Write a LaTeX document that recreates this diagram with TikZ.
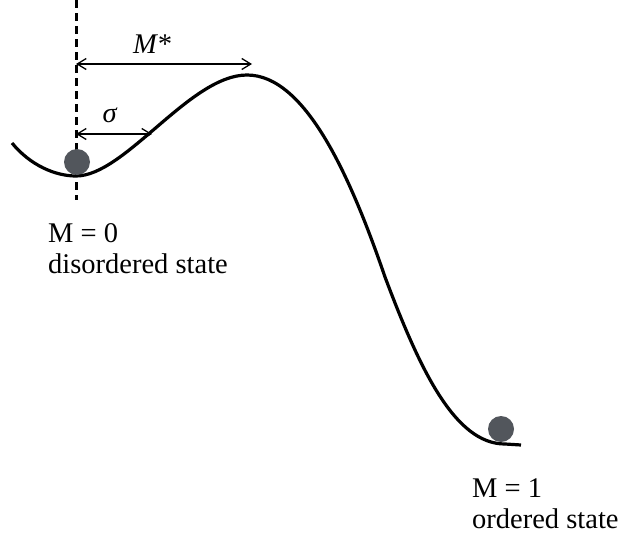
\documentclass[tikz,border=0pt]{standalone}
\usepackage{fontspec}
\setmainfont{Liberation Serif}
\usepackage{xcolor}
\definecolor{ballgray}{HTML}{52565C}
\usepackage{tikz}
\usetikzlibrary{arrows.meta,positioning}

\begin{document}
\begin{tikzpicture}[
  x=1pt,y=-1pt,
  lbl/.style={font=\fontsize{28.5}{31}\selectfont,inner sep=0pt,align=left},
  ball/.style={circle,fill=ballgray,minimum size=26pt,inner sep=0pt},
  dim/.style={{Straight Barb[length=9pt,width=11pt]}-{Straight Barb[length=9pt,width=11pt]},line width=1.3pt},
  energy/.style={line width=3.2pt},
  axis/.style={line width=3pt,dash pattern=on 8pt off 5pt},
]
  \useasboundingbox (0,0) rectangle (618,538);

  % energy landscape
  \coordinate (e0) at (12,143);
  \coordinate (min0) at (76,176);
  \coordinate (barrier) at (247,75);
  \coordinate (infl) at (385,277);
  \coordinate (min1) at (505,444);
  \coordinate (e1) at (521,445);
  \draw[energy] (e0) .. controls (30,165) and (55,176) .. (min0)
    .. controls (125,176) and (190,75) .. (barrier)
    .. controls (305,75) and (350,175) .. (infl)
    .. controls (420,370) and (455,444) .. (min1) -- (e1);

  % position of the disordered minimum
  \coordinate (top) at (76,0);
  \coordinate (bot) at (76,200);
  \draw[axis] (top) -- (bot);

  \node[ball] (b0) at (77,162) {};
  \node[ball] (b1) at (501,429) {};

  % widths
  \coordinate (m0) at (76,64);
  \coordinate (m1) at (252,64);
  \coordinate (s0) at (76,134);
  \coordinate (s1) at (152,134);
  \draw[dim] (m0) -- (m1);
  \draw[dim] (s0) -- (s1);
  \node[lbl,anchor=base] (mstar) at (152,53) {\textit{M*}};
  \node[lbl,anchor=base] (sig) at (110,122) {\textit{σ}};

  \node[lbl,anchor=base west] (lab0) at (48,273) {M = 0\\disordered state};
  \node[lbl,anchor=base west] (lab1) at (472,528) {M = 1\\ordered state};
\end{tikzpicture}
\end{document}
